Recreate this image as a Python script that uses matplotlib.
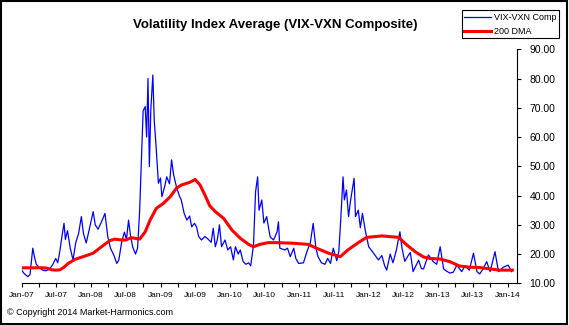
import numpy as np
import pandas as pd
import matplotlib
matplotlib.use("Agg")
import matplotlib.pyplot as plt
import matplotlib.dates as mdates
from matplotlib.patches import Rectangle

plt.rcParams['font.family'] = ['Liberation Sans', 'DejaVu Sans']

# VIX-VXN composite (decimal year, value)
comp_t = [2007.00, 2007.03, 2007.06, 2007.09, 2007.12, 2007.16, 2007.18, 2007.21, 2007.25, 2007.30,
          2007.35, 2007.40, 2007.45, 2007.49, 2007.52, 2007.55, 2007.58, 2007.61, 2007.63, 2007.66,
          2007.70, 2007.74, 2007.78, 2007.82, 2007.86, 2007.89, 2007.93, 2007.97, 2008.03, 2008.06,
          2008.10, 2008.15, 2008.20, 2008.24, 2008.28, 2008.33, 2008.37, 2008.40, 2008.44, 2008.48,
          2008.51, 2008.54, 2008.57, 2008.60, 2008.64, 2008.67, 2008.70, 2008.75, 2008.78, 2008.80,
          2008.82, 2008.84, 2008.86, 2008.89, 2008.91, 2008.94, 2008.97, 2009.00, 2009.02, 2009.06,
          2009.09, 2009.13, 2009.16, 2009.19, 2009.23, 2009.27, 2009.30, 2009.34, 2009.38, 2009.42,
          2009.45, 2009.49, 2009.52, 2009.55, 2009.59, 2009.64, 2009.69, 2009.73, 2009.76, 2009.79,
          2009.82, 2009.85, 2009.88, 2009.93, 2009.97, 2010.01, 2010.05, 2010.08, 2010.12, 2010.15,
          2010.19, 2010.23, 2010.27, 2010.30, 2010.34, 2010.37, 2010.40, 2010.42, 2010.46, 2010.49,
          2010.53, 2010.58, 2010.63, 2010.68, 2010.70, 2010.72, 2010.79, 2010.83, 2010.87, 2010.92,
          2010.95, 2010.99, 2011.06, 2011.11, 2011.16, 2011.20, 2011.24, 2011.27, 2011.32, 2011.37,
          2011.41, 2011.45, 2011.49, 2011.54, 2011.57, 2011.60, 2011.63, 2011.65, 2011.68, 2011.71,
          2011.74, 2011.79, 2011.81, 2011.85, 2011.88, 2011.91, 2011.95, 2012.00, 2012.07, 2012.14,
          2012.19, 2012.23, 2012.26, 2012.31, 2012.35, 2012.40, 2012.45, 2012.48, 2012.52, 2012.57,
          2012.60, 2012.64, 2012.68, 2012.72, 2012.76, 2012.79, 2012.86, 2012.93, 2012.98, 2013.03,
          2013.08, 2013.12, 2013.17, 2013.22, 2013.27, 2013.34, 2013.39, 2013.45, 2013.51, 2013.56,
          2013.60, 2013.65, 2013.70, 2013.75, 2013.82, 2013.87, 2013.94, 2014.01, 2014.06]
comp_v = [14.5, 13.5, 12.8, 12.3, 13.0, 22.0, 19.5, 16.5, 15.5, 14.5,
          14.3, 14.8, 16.5, 18.5, 17.0, 21.0, 26.0, 30.5, 25.0, 28.0,
          22.0, 18.0, 24.0, 27.0, 32.8, 27.0, 23.8, 28.0, 34.5, 30.0,
          28.5, 31.0, 33.9, 26.0, 22.0, 19.5, 16.8, 18.0, 24.0, 27.5,
          25.0, 31.6, 26.0, 22.4, 20.0, 22.0, 35.0, 69.0, 70.4, 60.0,
          80.0, 49.9, 69.0, 81.2, 65.8, 55.6, 44.2, 46.0, 39.6, 43.0,
          46.4, 44.0, 52.2, 47.0, 43.0, 40.0, 38.5, 34.0, 31.6, 33.0,
          29.3, 30.5, 29.3, 26.0, 24.8, 26.0, 25.0, 24.0, 28.8, 22.5,
          25.0, 30.0, 22.5, 24.8, 21.4, 22.5, 18.0, 22.5, 20.0, 21.4,
          17.5, 16.5, 17.0, 16.0, 23.0, 41.3, 46.4, 35.0, 38.5, 30.6,
          32.8, 25.9, 24.8, 27.6, 31.0, 22.0, 21.4, 22.0, 19.1, 22.0,
          18.5, 16.8, 17.0, 20.8, 24.0, 30.5, 22.0, 19.1, 17.0, 16.5,
          18.5, 16.8, 22.0, 17.7, 21.0, 32.8, 46.4, 38.5, 41.9, 32.8,
          38.5, 45.9, 32.8, 35.0, 29.0, 33.9, 28.2, 22.5, 20.3, 18.0,
          19.5, 16.0, 14.5, 20.0, 17.0, 21.5, 27.6, 22.0, 17.5, 19.5,
          20.5, 14.0, 16.0, 17.9, 15.0, 14.9, 19.7, 17.4, 16.5, 22.5,
          14.9, 14.2, 13.5, 13.8, 16.2, 14.0, 16.0, 14.5, 20.3, 14.0,
          13.2, 15.0, 17.4, 14.0, 20.8, 14.0, 15.5, 16.2, 14.0]

# 200-day moving average
dma_t = [2007.00, 2007.10, 2007.20, 2007.30, 2007.36, 2007.44, 2007.50, 2007.55, 2007.61, 2007.67,
         2007.77, 2007.91, 2008.03, 2008.15, 2008.27, 2008.34, 2008.44, 2008.50, 2008.58, 2008.70,
         2008.78, 2008.85, 2008.94, 2009.04, 2009.14, 2009.23, 2009.30, 2009.42, 2009.50, 2009.57,
         2009.64, 2009.71, 2009.79, 2009.91, 2010.03, 2010.15, 2010.27, 2010.34, 2010.43, 2010.55,
         2010.67, 2010.91, 2011.13, 2011.23, 2011.42, 2011.59, 2011.70, 2011.85, 2011.97, 2012.19,
         2012.43, 2012.55, 2012.67, 2012.79, 2012.88, 2013.03, 2013.17, 2013.31, 2013.46, 2013.60,
         2013.75, 2013.89, 2014.07]
dma_v = [15.3, 15.3, 15.3, 15.3, 15.2, 14.6, 14.5, 14.6, 15.5, 16.8,
         18.2, 19.3, 20.3, 22.5, 24.6, 25.1, 24.8, 24.8, 25.6, 25.1,
         27.6, 31.6, 35.6, 37.3, 39.6, 42.5, 43.6, 44.5, 45.5, 43.6,
         40.2, 36.5, 34.5, 32.2, 28.2, 25.4, 23.3, 22.5, 23.3, 23.9,
         23.9, 23.7, 23.3, 22.2, 20.3, 19.1, 21.4, 23.9, 25.7, 26.2,
         25.7, 23.1, 20.8, 19.0, 18.5, 18.3, 17.4, 15.9, 15.5, 15.4,
         14.9, 14.5, 14.5]


def to_dates(dec_years):
    d = np.asarray(dec_years) - 2007.0
    return pd.Timestamp('2007-01-01') + pd.to_timedelta(d * 365.25, unit='D')


fig = plt.figure(figsize=(5.69, 3.25), dpi=100)
ax = fig.add_axes([0.0381, 0.1283, 0.9086 - 0.0381, 0.8483 - 0.1283])

ax.plot(to_dates(comp_t), comp_v, color='#0000FF', lw=0.9, label='VIX-VXN Comp')
ax.plot(to_dates(dma_t), dma_v, color='#FF0000', lw=2.2, label='200 DMA')

ax.set_xlim(to_dates([2007.0])[0], to_dates([2014.137])[0])
ax.set_ylim(10, 90)
ax.set_yticks(np.arange(10, 91, 10))
ax.yaxis.set_major_formatter(matplotlib.ticker.FormatStrFormatter('%.2f'))
ax.yaxis.tick_right()

ax.xaxis.set_major_locator(mdates.MonthLocator(bymonth=[1, 7]))
ax.xaxis.set_minor_locator(mdates.MonthLocator(bymonth=[4, 10]))
ax.xaxis.set_major_formatter(mdates.DateFormatter('%b-%y'))

for s in ['left', 'top']:
    ax.spines[s].set_visible(False)
for s in ['right', 'bottom']:
    ax.spines[s].set_linewidth(0.8)
ax.tick_params(axis='y', which='major', direction='out', length=3, width=0.8,
               labelsize=7.5, pad=6)
ax.tick_params(axis='x', which='both', direction='out', length=3, width=0.8,
               labelsize=6, pad=3)

fig.text(0.483, 0.922, 'Volatility Index Average (VIX-VXN Composite)',
         ha='center', va='center', fontsize=9.5, fontweight='bold')
fig.text(0.012, 0.037, '\u00a9 Copyright 2014 Market-Harmonics.com',
         ha='left', va='center', fontsize=6.5)

leg = fig.legend(loc='upper right', bbox_to_anchor=(0.983, 0.969), fontsize=6.5,
                 frameon=True, fancybox=False, edgecolor='black', framealpha=1,
                 borderpad=0.3, handlelength=3.0, handletextpad=0.3,
                 labelspacing=0.55, borderaxespad=0)
leg.get_frame().set_linewidth(0.8)

fig.patches.append(Rectangle((0.002, 0.003), 0.994, 0.994, transform=fig.transFigure,
                             fill=False, edgecolor='black', lw=1.5))

fig.savefig('out.png', dpi=100)
